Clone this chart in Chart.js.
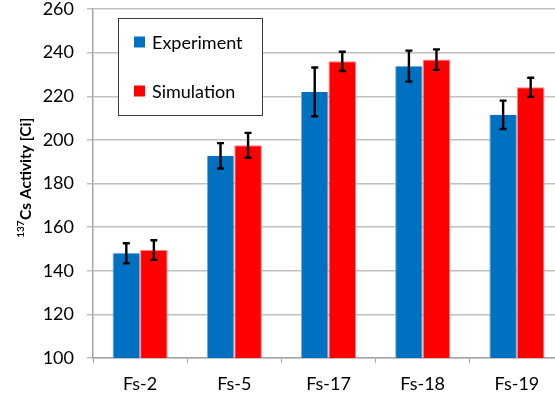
<!DOCTYPE html>
<html>
<head>
<meta charset="utf-8">
<script src="https://cdn.jsdelivr.net/npm/chart.js@4"></script>
<style>
html,body{margin:0;padding:0;background:#fff;overflow:hidden;}
#wrap{width:564px;height:400px;position:relative;}
</style>
</head>
<body>
<div id="wrap"><canvas id="c"></canvas></div>
<script>
const categories = ['Fs-2', 'Fs-5', 'Fs-17', 'Fs-18', 'Fs-19'];
const experiment = [148, 192.7, 222, 233.8, 211.5];
const experimentErr = [4.6, 5.8, 11.2, 7.1, 6.5];
const simulation = [149.5, 197.5, 236, 236.8, 224.1];
const simulationErr = [4.5, 5.7, 4.4, 4.7, 4.4];
const yTicks = [100, 120, 140, 160, 180, 200, 220, 240, 260];
const seriesNames = ['Experiment', 'Simulation'];
const axisTitleSup = '137';
const axisTitleMain = 'Cs Activity [Ci]';

const FONT = 'Lato, "Open Sans", sans-serif';

const errorBars = {
  id: 'errorBars',
  afterDatasetsDraw(chart) {
    const ctx = chart.ctx;
    const y = chart.scales.y;
    const errs = [experimentErr, simulationErr];
    chart.data.datasets.forEach((ds, di) => {
      const meta = chart.getDatasetMeta(di);
      meta.data.forEach((bar, i) => {
        const v = ds.data[i], e = errs[di][i];
        const yt = y.getPixelForValue(v + e), yb = y.getPixelForValue(v - e);
        ctx.save();
        ctx.strokeStyle = '#000';
        ctx.lineWidth = 2.4;
        ctx.beginPath();
        ctx.moveTo(bar.x, yt); ctx.lineTo(bar.x, yb);
        ctx.moveTo(bar.x - 3.5, yt); ctx.lineTo(bar.x + 3.5, yt);
        ctx.moveTo(bar.x - 3.5, yb); ctx.lineTo(bar.x + 3.5, yb);
        ctx.stroke();
        ctx.restore();
      });
    });
  }
};

const customDecor = {
  id: 'customDecor',
  afterDraw(chart) {
    const ctx = chart.ctx;
    // legend box
    ctx.save();
    ctx.fillStyle = '#fff';
    ctx.fillRect(118, 18, 144, 97);
    ctx.strokeStyle = '#3a3a3a';
    ctx.lineWidth = 1;
    ctx.strokeRect(118.5, 18.5, 144, 97);
    const ys = [42, 91];
    chart.data.datasets.forEach((ds, i) => {
      ctx.fillStyle = ds.backgroundColor;
      ctx.fillRect(134, ys[i] - 5.5, 11, 11);
      ctx.fillStyle = '#000';
      ctx.font = '18px ' + FONT;
      ctx.textBaseline = 'middle';
      ctx.textAlign = 'left';
      ctx.fillText(ds.label, 152, ys[i] + 1);
    });
    ctx.restore();
    // y axis title
    ctx.save();
    ctx.translate(26, 178);
    ctx.rotate(-Math.PI / 2);
    ctx.fillStyle = '#000';
    ctx.textBaseline = 'middle';
    const supFont = 'bold 10px ' + FONT;
    const mainFont = 'bold 15.5px ' + FONT;
    ctx.font = supFont;
    const w1 = ctx.measureText(axisTitleSup).width;
    ctx.font = mainFont;
    const w2 = ctx.measureText(axisTitleMain).width;
    let x = -(w1 + w2) / 2;
    ctx.textAlign = 'left';
    ctx.font = supFont;
    ctx.fillText(axisTitleSup, x, -5);
    ctx.font = mainFont;
    ctx.fillText(axisTitleMain, x + w1 + 0.5, 0);
    ctx.restore();
  }
};

new Chart(document.getElementById('c'), {
  type: 'bar',
  data: {
    labels: categories,
    datasets: [
      { label: seriesNames[0], data: experiment, backgroundColor: '#0070C0', borderColor: '#7FA8D0', borderWidth: { left: 1, right: 1, top: 0, bottom: 0 } },
      { label: seriesNames[1], data: simulation, backgroundColor: '#FF0000', borderColor: '#FF8080', borderWidth: { left: 1, right: 1, top: 1, bottom: 0 } }
    ]
  },
  options: {
    responsive: true,
    maintainAspectRatio: false,
    animation: false,
    layout: { padding: { top: 9, left: 0, right: 0, bottom: 0 } },
    plugins: { legend: { display: false }, tooltip: { enabled: false } },
    datasets: { bar: { categoryPercentage: 0.585, barPercentage: 1.0 } },
    scales: {
      x: {
        grid: { display: true, drawOnChartArea: false, drawTicks: true, tickLength: 5, color: '#A6A6A6', offset: true },
        border: { display: true, color: '#A6A6A6', width: 1.5 },
        ticks: { font: { family: FONT, size: 18 }, color: '#000', padding: 10 },
        afterFit(s) { s.height = 42; s.paddingLeft = 0; s.paddingRight = 0; }
      },
      y: {
        min: 100, max: 260,
        afterBuildTicks(s) { s.ticks = yTicks.map(v => ({ value: v })); },
        grid: { color: '#C0C0C0', lineWidth: 1.5, tickLength: 6 },
        border: { display: true, color: '#A6A6A6', width: 1.5 },
        ticks: { font: { family: FONT, size: 18 }, color: '#000', padding: 13 },
        afterFit(s) { s.width = 93; s.paddingTop = 0; s.paddingBottom = 0; }
      }
    }
  },
  plugins: [errorBars, customDecor]
});
</script>
</body>
</html>
